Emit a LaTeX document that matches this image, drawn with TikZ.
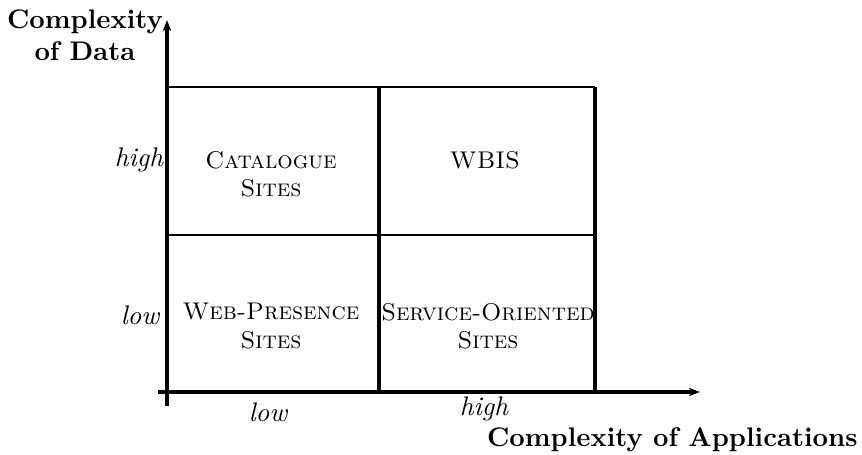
\documentclass[tikz,border=0pt]{standalone}
\usetikzlibrary{arrows.meta}
\tikzset{
  axis/.style={line width=1.3pt, -{Stealth[length=4pt,width=3pt,inset=0.8pt]}},
  vline/.style={line width=1.3pt},
  hline/.style={line width=0.9pt},
  lbl/.style={inner sep=0pt, font=\itshape},
  cell/.style={inner sep=0pt, align=center, font=\fontsize{9}{10.5}\selectfont\scshape},
  ttl/.style={inner sep=0pt, align=center, font=\bfseries},
}
\begin{document}
\begin{tikzpicture}[x=0.372pt,y=-0.372pt]
\useasboundingbox (0,0) rectangle (862,455);
% axes
\coordinate (xs) at (158,392);
\coordinate (xe) at (700,392);
\coordinate (ys) at (167,406);
\coordinate (ye) at (167,20);
\draw[axis] (xs) -- (xe);
\draw[axis] (ys) -- (ye);
% grid
\coordinate (tl) at (167,87);
\coordinate (tm) at (379,87);
\coordinate (tr) at (595,87);
\coordinate (ml) at (167,235);
\coordinate (mm) at (379,235);
\coordinate (mr) at (595,235);
\coordinate (bl) at (167,392);
\coordinate (bm) at (379,392);
\coordinate (br) at (595,392);
\draw[hline] (tl) -- (tr);
\draw[hline] (ml) -- (mr);
\draw[vline] (tm) -- (bm);
\draw[vline] (tr) -- (br);
% cell labels
\node[cell] (cat) at (271,174) {Catalogue\\Sites};
\node[cell] (wbis) at (485,160) {WBIS};
\node[cell] (web) at (271,326) {Web-Presence\\Sites};
\node[cell] (serv) at (488,326) {Service-Oriented\\Sites};
% axis labels
\node[lbl] (yh) at (139,160) {high};
\node[lbl] (yl) at (140,315) {low};
\node[lbl] (xl) at (268,412) {low};
\node[lbl] (xh) at (484,409) {high};
\node[ttl] (ytitle) at (85,35) {Complexity\\of Data};
\node[ttl, anchor=east] (xtitle) at (858,440) {Complexity of Applications};
\end{tikzpicture}
\end{document}
